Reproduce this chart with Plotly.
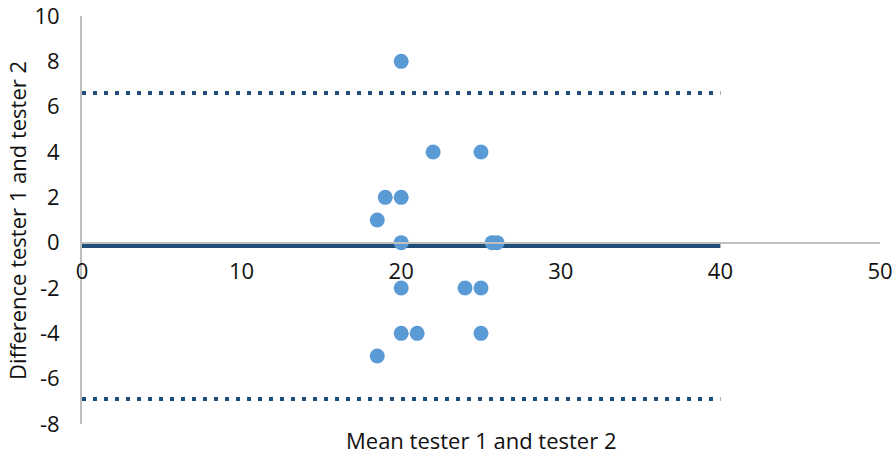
import plotly.graph_objects as go

# Data
mean_x = [20, 22, 25, 19, 20, 18.5, 20, 25.7, 26, 20, 24, 25, 20, 21, 25, 18.5]
diff_y = [8, 4, 4, 2, 2, 1, 0, 0, 0, -2, -2, -2, -4, -4, -4, -5]
line_x = [0, 40]
mean_diff = -0.15
loa_upper = 6.6
loa_lower = -6.9

x_ticks = [0, 10, 20, 30, 40, 50]
y_ticks = [-8, -6, -4, -2, 0, 2, 4, 6, 8, 10]
y_tick_text = [str(v) for v in y_ticks]
x_tick_text = [str(v) for v in x_ticks]

dark = "#1F4E79"
font_family = "Open Sans, Liberation Sans, sans-serif"

fig = go.Figure()
fig.add_trace(go.Scatter(x=line_x, y=[loa_upper, loa_upper], mode="lines",
                         line=dict(color=dark, width=4, dash="4px,7px"), showlegend=False))
fig.add_trace(go.Scatter(x=line_x, y=[loa_lower, loa_lower], mode="lines",
                         line=dict(color=dark, width=4, dash="4px,7px"), showlegend=False))
fig.add_trace(go.Scatter(x=line_x, y=[mean_diff, mean_diff], mode="lines",
                         line=dict(color=dark, width=4), showlegend=False))
fig.add_trace(go.Scatter(x=mean_x, y=diff_y, mode="markers",
                         marker=dict(color="#5B9BD5", size=15), showlegend=False))

fig.update_layout(
    width=895, height=457,
    margin=dict(l=82, r=15, t=16, b=33, autoexpand=False),
    plot_bgcolor="white", paper_bgcolor="white",
    font=dict(family=font_family, size=22, color="#111"),
    xaxis=dict(range=[0, 50], tickvals=x_ticks, ticktext=x_tick_text,
               showgrid=False, zeroline=False, automargin=False,
               showline=True, linecolor="#BFBFBF", linewidth=2,
               anchor="free", position=8 / 18, ticks="", ticklabelstandoff=9,
               ticklabeloverflow="allow"),
    yaxis=dict(range=[-8, 10], tickvals=y_ticks, ticktext=y_tick_text,
               showgrid=False, zeroline=False, automargin=False,
               showline=True, linecolor="#BFBFBF", linewidth=2,
               ticks="", ticklabelstandoff=16, ticklabeloverflow="allow"),
    annotations=[
        dict(text="Mean tester 1 and tester 2", xref="paper", yref="paper",
             x=0.5, y=-0.039, xanchor="center", yanchor="middle", showarrow=False,
             font=dict(size=22)),
        dict(text="Difference tester 1 and tester 2", xref="paper", yref="paper",
             x=-0.0815, y=0.5, xanchor="center", yanchor="middle",
             textangle=-90, showarrow=False, font=dict(size=22)),
    ],
)
fig.write_html("out.html", config={"displayModeBar": False},
               post_script="document.body.style.margin='0';document.body.style.padding='0';")
